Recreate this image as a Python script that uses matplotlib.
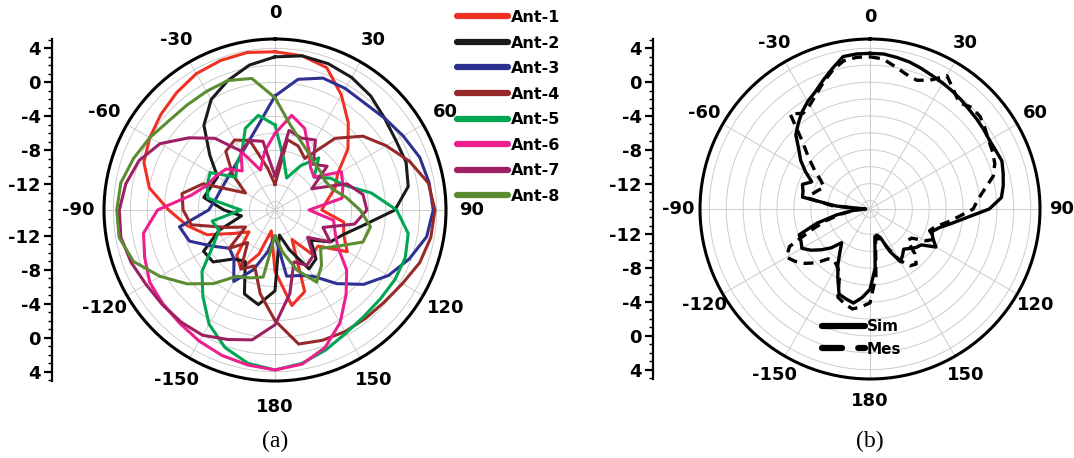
import numpy as np
import matplotlib.pyplot as plt
from matplotlib.lines import Line2D
from matplotlib.ticker import FixedLocator

plt.rcParams['font.family'] = 'DejaVu Sans'
plt.rcParams['font.weight'] = 'bold'

W, H = 1074, 458

# angles in degrees, clockwise from the top
ang_a = np.arange(0, 360, 10)
ang_b = np.arange(0, 360, 5)

# (a) eight antenna patterns, dB
ant1 = [3.6, 3.4, 2.8, 0.6, -1.6, -3.8, -6.5, -7.5, -8.8, -9.5,
        -6.8, -6.4, -5.2, -8.4, -8.2, -11, -4.8, -3.6, -7.8, -12.5,
        -9.5, -7, -8, -11, -9.5, -6.5, -4.5, -2.5, 0, 1.4,
        2.0, 2.5, 3.0, 3.5, 3.7, 3.8]
ant2 = [3.0, 3.4, 3.3, 3.0, 2.5, 1.8, 1.4, 1.4, 0.9, -0.9,
        -4.5, -6.5, -7.5, -9.5, -7.5, -7, -10, -12, -5.5, -3.7,
        -4.5, -8, -7.5, -5.5, -5.3, -8, -11, -9, -6.5, -7,
        -7.2, -5, -2, 0, 1.2, 2.3]
ant3 = [-1.6, 0.6, 1.5, 1.5, 1.4, 1.8, 2.4, 3.1, 3.4, 3.6,
        3.1, 1.8, 0.4, -1.4, -3.7, -6, -6.8, -7.1, -12, -10,
        -7.5, -5.3, -7.5, -8, -6.5, -4.3, -3.6, -7.2, -7.9, -8.2,
        -8.3, -8.2, -7.9, -7.25, -6.25, -4.6]
ant4 = [-12, -6.6, -7, -8, -4, -1.5, 0.1, 1.8, 3.3, 3.8,
        3.6, 3.1, 2.3, 1.8, 1.6, 1.5, 1.3, 1.0, -2, -5,
        -8, -7, -10, -8, -11, -9, -5, -4.2, -3.9, -6,
        -11, -8.5, -6, -5.5, -6.3, -10]
ant5 = [-5, -9, -11, -9, -7, -9, -7.5, -6.4, -3.5, -0.7,
        0.9, 1.3, 1.3, 1.2, 1.3, 1.7, 2.5, 3.3, 3.8, 3.3,
        2.2, 0.5, -1.8, -3.8, -6.6, -8, -7.5, -11, -7, -6.5,
        -6.2, -9, -8, -7.2, -4.8, -3.7]
ant6 = [-6, -3.7, -4.8, -7, -8.5, -9, -6, -6.5, -7, -11,
        -8, -7.5, -6.5, -4, -2, 0.3, 2.2, 3.4, 3.8, 3.5,
        3.2, 2.8, 2.4, 2.2, 2.0, 1.3, 0.7, -1.2, -5, -6.5,
        -7, -7.5, -9, -7, -10, -8]
ant7 = [-11, -5.5, -6, -5.5, -8, -7, -10, -6, -4.5, -4.2,
        -5.5, -9, -7.5, -10, -8, -7.5, -8.5, -5, -1.5, 0.5,
        1.2, 2.0, 2.2, 2.3, 2.5, 3.0, 3.4, 3.3, 2.8, 2.0,
        0.6, -1.8, -4, -7, -6.3, -6.8]
ant8 = [-1.8, -4.8, -6.3, -7.2, -7.8, -8, -8.2, -7.8, -6.5, -5,
        -3.6, -4, -6.5, -8, -6.5, -5.2, -7.5, -10, -12, -7,
        -6.5, -6, -3.7, -1.5, 0.6, 2.7, 3.6, 3.6, 3.4, 2.7,
        2.0, 1.3, 1.1, 1.1, 1.2, 0.7]

ant_labels = ['Ant-1', 'Ant-2', 'Ant-3', 'Ant-4', 'Ant-5', 'Ant-6', 'Ant-7', 'Ant-8']
ant_colors = ['#ee3124', '#1a1a1a', '#2e3192', '#962a2a',
              '#00a651', '#ed1f8e', '#9e1f63', '#5b8c32']

# (b) simulated vs measured, dB
sim = [3.4, 3.4, 3.2, 3.0, 2.7, 2.4, 2.2, 2.0, 1.8, 1.6,
       1.5, 1.4, 1.3, 1.4, 1.6, 1.3, 1.0, 0.6, -0.9, -3.5,
       -5.2, -6.5, -7.2, -6.8, -6.0, -7.6, -7.9, -8.4, -8.8, -8.3,
       -7.8, -9.5, -11.4, -11.8, -11.7, -8.0, -5.5, -4.5, -3.7, -4.0,
       -4.3, -6.0, -7.4, -8.8, -9.8, -8.5, -7.5, -6.5, -5.7, -6.0,
       -6.1, -8.5, -11.0, -13.0, -14.5, -11.0, -6.9, -6.8, -6.5, -7.4,
       -6.2, -5.0, -4.0, -2.6, -1.8, -1.0, -0.3, 0.3, 1.2, 2.2,
       3.3, 3.4]
mes = [3.0, 2.8, 2.1, 1.5, 1.2, 1.8, 3.2, 2.2, 1.4, 2.0,
       2.0, 1.6, 1.2, 1.0, 0.7, 0.1, -1.2, -2.2, -2.8, -4.5,
       -5.8, -7.0, -7.5, -6.5, -7.5, -9.0, -9.2, -7.5, -6.5, -6.8,
       -8.0, -9.8, -11.0, -11.5, -11.2, -7.0, -3.9, -3.4, -3.0, -3.4,
       -3.9, -6.5, -7.2, -7.6, -7.3, -6.0, -5.0, -4.2, -3.6, -4.5,
       -7.5, -9.5, -11.5, -13.0, -14.0, -10.5, -7.5, -8.0, -8.5, -9.0,
       -8.3, -7.0, -5.5, -3.7, -0.3, -1.2, -0.8, 0.0, 1.0, 2.0,
       2.8, 3.0]

theta_ticks = [0, 30, 60, 90, 120, 150, 180, 210, 240, 270, 300, 330]
theta_labels = ['0', '30', '60', '90', '120', '150', '180',
                '-150', '-120', '-90', '-60', '-30']
r_ticks = [4, 0, -4, -8, -12]
R_MIN, R_MAX = -15, 5.1


def closed(ang, vals):
    t = np.deg2rad(np.append(ang, ang[0]))
    return t, np.append(vals, vals[0])


def style_polar(ax, pad):
    ax.set_theta_zero_location('N')
    ax.set_theta_direction(-1)
    ax.set_rlim(R_MIN, R_MAX)
    ax.set_rgrids(np.arange(-14, 5, 2), labels=[])
    ax.set_thetagrids(theta_ticks, theta_labels, fontsize=13, fontweight='bold')
    ax.xaxis.set_minor_locator(FixedLocator(np.deg2rad(np.arange(15, 360, 30))))
    ax.tick_params(axis='x', which='major', direction='inout', length=11, width=1.8, pad=pad)
    ax.tick_params(axis='x', which='minor', direction='inout', length=6, width=1.3)
    ax.grid(True, color='#cccccc', lw=0.7)
    ax.spines['polar'].set_linewidth(2.2)


def side_axis(x_px, pos):
    sax = fig.add_axes([x_px / W, pos[1], 0.002, pos[3]])
    span = R_MAX - R_MIN
    sax.set_ylim(-span, span)
    sax.set_xlim(0, 1)
    for s in ['top', 'right', 'bottom']:
        sax.spines[s].set_visible(False)
    sax.spines['left'].set_linewidth(1.6)
    sax.set_xticks([])
    ticks = [v - R_MIN for v in r_ticks] + [-(v - R_MIN) for v in r_ticks]
    labels = [str(v) for v in r_ticks] * 2
    sax.set_yticks(ticks, labels)
    sax.yaxis.set_minor_locator(FixedLocator(np.arange(-20, 21, 1)))
    sax.tick_params(axis='y', which='major', length=6, width=1.6, labelsize=13, pad=2)
    sax.tick_params(axis='y', which='minor', length=3, width=1.0)
    sax.patch.set_visible(False)
    return sax


fig = plt.figure(figsize=(W / 100, H / 100), dpi=100)

pos_a = [104 / W, (H - 210 - 171) / H, 342 / W, 342 / H]
pos_b = [700 / W, (H - 209 - 170) / H, 340 / W, 340 / H]

ax_a = fig.add_axes(pos_a, projection='polar')
style_polar(ax_a, pad=6)
for vals, col in zip([ant1, ant2, ant3, ant4, ant5, ant6, ant7, ant8], ant_colors):
    t, r = closed(ang_a, vals)
    ax_a.plot(t, r, color=col, lw=2.2)
side_axis(52, pos_a)

handles = [Line2D([], [], color=c, lw=4.5, solid_capstyle='round') for c in ant_colors]
fig.legend(handles, ant_labels, loc='upper left', bbox_to_anchor=(457 / W, 1 - 10 / H),
           frameon=False, fontsize=11.5, handlelength=3.2, handletextpad=0.15,
           labelspacing=0.66, borderpad=0, borderaxespad=0)

ax_b = fig.add_axes(pos_b, projection='polar')
style_polar(ax_b, pad=3)
t, r = closed(ang_b, sim)
ax_b.plot(t, r, color='k', lw=2.4)
t, r = closed(ang_b, mes)
ax_b.plot(t, r, color='k', lw=2.4, linestyle=(0, (3, 2)))
side_axis(653, pos_b)

hb = [Line2D([], [], color='k', lw=4.5, solid_capstyle='round'),
      Line2D([], [], color='k', lw=4.5, dash_capstyle='round', dashes=(3.2, 2.6, 3.2, 2.6))]
fig.legend(hb, ['Sim', 'Mes'], loc='upper left', bbox_to_anchor=(822 / W, 1 - 319 / H),
           frameon=False, fontsize=11, handlelength=2.8, handletextpad=0.15,
           labelspacing=0.5, borderpad=0, borderaxespad=0)

fig.text(275 / W, 1 - 441 / H, '(a)', ha='center', va='center',
         family='Liberation Serif', fontsize=17, fontweight='normal')
fig.text(870 / W, 1 - 441 / H, '(b)', ha='center', va='center',
         family='Liberation Serif', fontsize=17, fontweight='normal')

fig.savefig('out.png', dpi=100, facecolor='white')
